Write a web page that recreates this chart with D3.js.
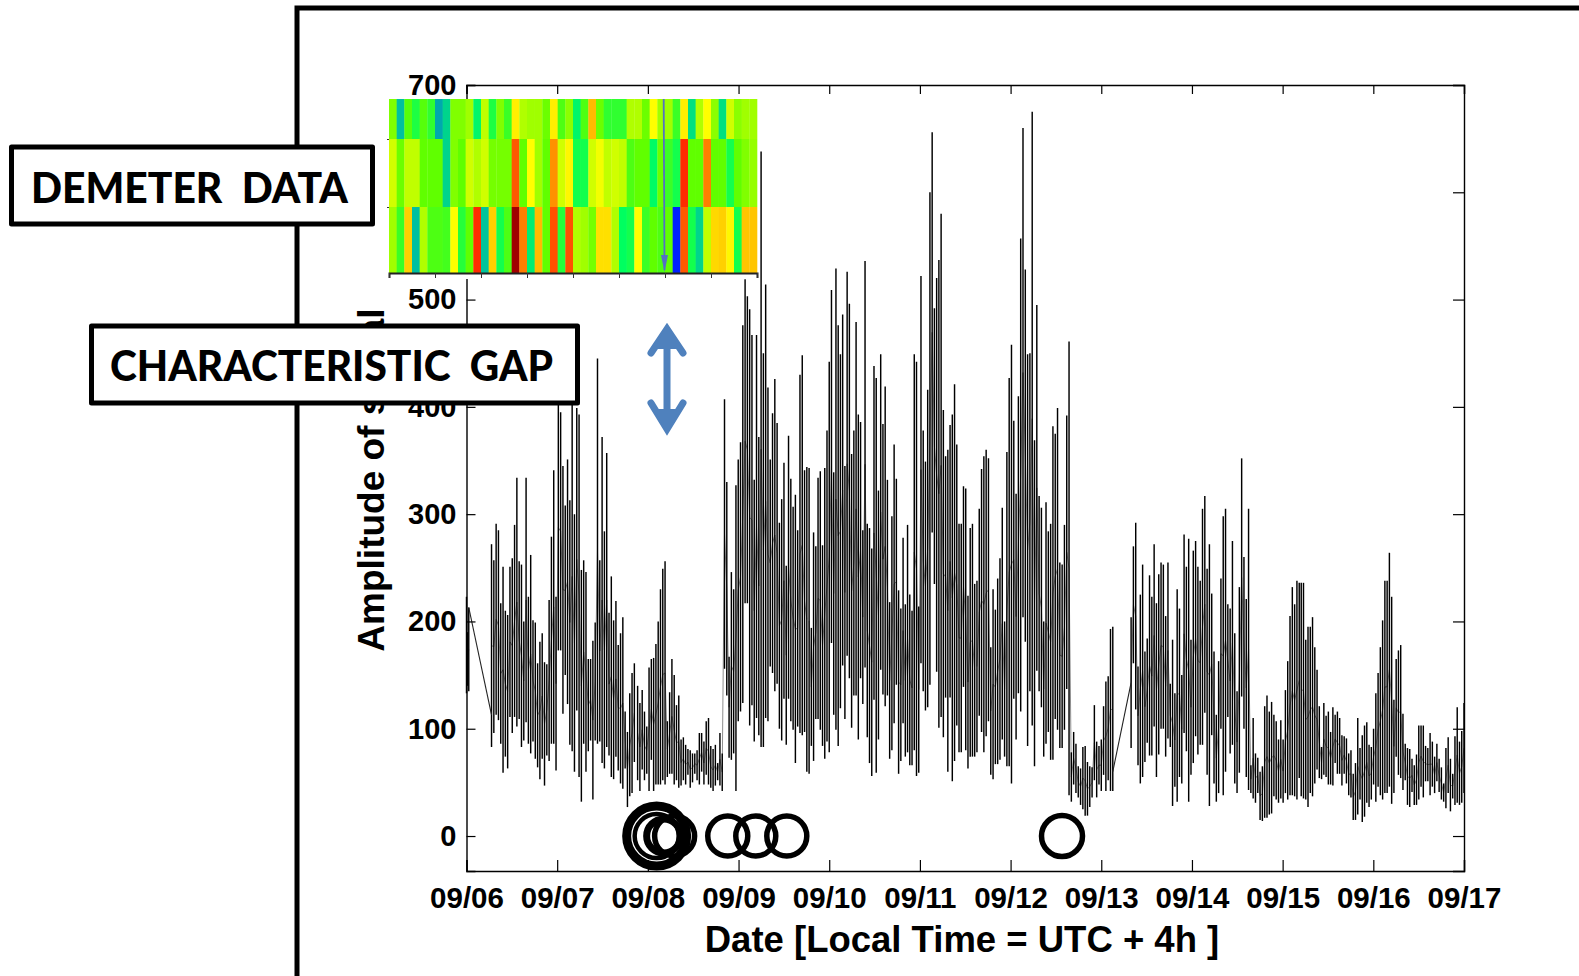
<!DOCTYPE html>
<html>
<head>
<meta charset="utf-8">
<script src="https://cdn.jsdelivr.net/npm/d3@7"></script>
<style>
html, body { margin: 0; background: #fff; }
svg { display: block; }
.tick-label { font-family: "Liberation Sans", Arial, sans-serif; font-weight: bold; font-size: 29.5px; fill: #000; }
.axis-title { font-family: "Liberation Sans", Arial, sans-serif; font-weight: bold; font-size: 36.5px; fill: #000; }
.box-label { font-family: Lato, "Open Sans", sans-serif; font-weight: 900; font-size: 42px; fill: #000; }
</style>
</head>
<body>
<svg id="chart" width="1579" height="976"></svg>
<script>
// tick labels, days since 09/06 on the x axis
const dayLabels = ['09/06','09/07','09/08','09/09','09/10','09/11','09/12','09/13','09/14','09/15','09/16','09/17'];
const ampTicks = [0,100,200,300,400,500,600,700];

// trace, high,low pairs, sections run from first day to last day
const traceStart = [0, 0.276, 1.887, 3.778, 5.629, 7.329, 9.205];
const traceEnd = [0.025, 1.851, 3.753, 5.604, 7.127, 9.183, 11];

const trace0 = [223,133, 190,140, 213,135];
const trace1 = [272,83, 257,96, 291,113, 285,108, 217,86, 251,59, 210,74, 206,63, 251,111, 259,96, 290,111, 334,102, 256,109, 253,83, 200,89, 334,106, 223,86, 262,77, 201,88, 199,72, 161,64, 181,53, 189,72, 162,47, 160,75, 220,70, 279,86, 341,86, 223,61, 402,173, 395,173, 345,114, 308,150, 351,123, 313,85, 405,79, 300,60, 399,117, 393,55, 248,32, 257,86, 246,60, 165,79, 165,89, 182,34, 199,89, 445,86, 257,88, 372,68, 284,63, 357,83, 208,75, 242,55, 201,53, 219,74, 178,61, 189,49, 204,44, 116,63, 97,27, 133,37, 152,40, 161,69];
const trace2 = [140,52, 124,42, 136,62, 116,52, 102,58, 157,42, 165,71, 166,42, 179,48, 200,48, 230,48, 249,52, 256,48, 107,55, 134,58, 165,58, 150,48, 122,52, 131,45, 90,47, 92,52, 85,48, 81,57, 80,45, 77,50, 77,58, 80,52, 96,48, 96,60, 88,48, 107,57, 110,48, 84,45, 81,42, 85,47, 68,52, 96,47, 77,42, 407,156, 330,131, 167,73, 246,71, 230,77, 327,42, 351,107, 367,116, 476,124, 519,217, 503,217, 491,103, 467,122, 332,88, 467,110, 372,94, 638,83, 450,83, 514,110, 418,107, 351,158, 394,152, 426,135, 385,142, 292,100, 314,89, 348,128, 252,85, 373,128, 333,107, 307,99, 318,68, 285,102, 430,96, 448,94, 341,97, 344,60];
const trace3 = [343,58, 194,84, 283,70, 270,109, 334,109, 340,99, 271,84, 343,72, 378,88, 442,78, 509,180, 339,113, 529,99, 476,84, 449,119, 486,159, 345,109, 526,168, 496,147, 356,101, 378,131, 479,131, 393,90, 386,147, 285,123, 536,157, 291,92, 287,68, 268,56, 438,127, 427,59, 322,90, 449,155, 384,132, 419,121, 332,131, 218,72, 298,80, 365,105, 333,141, 229,58, 212,70, 278,105, 216,74, 290,78, 225,66, 210,66, 449,80, 442,56, 214,59, 522,161, 378,135, 349,117, 416,120, 600,141, 656,283, 492,235, 520,153, 537,101, 580,111, 397,92, 354,129, 360,60, 383,129, 393,51, 421,70, 365,103, 291,78, 291,78, 326,139, 324,80, 224,63, 287,74, 291,74, 235,74];
const trace4 = [238,78, 305,112, 342,97, 354,78, 360,93, 352,107, 176,57, 230,53, 211,67, 240,67, 259,71, 306,90, 200,74, 358,65, 427,65, 458,49, 387,128, 319,90, 410,133, 557,116, 660,204, 528,181, 449,84, 450,135, 675,103, 369,65, 495,154, 317,135, 306,120, 200,74, 311,86, 284,97, 291,71, 382,71, 375,109, 399,99, 255,82, 253,82, 290,99, 392,137, 461,38, 78,32, 97,48, 86,40, 65,36, 63,29, 83,25, 84,19, 69,19, 65,27, 64,36, 122,52, 88,36, 84,48, 90,42, 121,57, 144,42, 149,52, 193,42, 195,42];
const trace5 = [204,82, 270,161, 292,118, 158,66, 225,49, 253,55, 172,69, 184,87, 243,75, 223,75, 272,102, 217,55, 244,76, 255,100, 253,100, 205,74, 255,91, 142,83, 183,28, 133,46, 230,32, 212,55, 150,49, 281,96, 251,79, 277,32, 183,57, 266,68, 275,93, 251,76, 238,85, 305,85, 317,115, 249,57, 272,28, 226,94, 172,49, 113,32, 163,40, 240,100, 298,38, 305,60, 216,111, 212,77, 275,85, 189,49, 135,40, 232,59, 352,130, 260,100, 221,55, 305,43, 66,40, 110,35, 77,31, 73,40, 60,15, 65,14, 121,17, 131,17, 116,20, 125,21, 113,37, 107,34, 90,31, 108,35, 90,31, 136,40, 163,34, 205,38, 232,38, 216,37, 238,34, 236,54];
const trace6 = [236,37, 236,35, 183,34, 195,27, 195,40, 204,37, 176,49, 155,62, 121,54, 83,53, 124,57, 112,55, 116,48, 97,48, 120,47, 113,68, 116,58, 110,58, 94,47, 93,58, 91,49, 77,38, 80,36, 58,15, 68,15, 110,20, 82,34, 94,13, 103,18, 106,31, 85,27, 83,34, 100,48, 133,32, 152,46, 176,38, 201,34, 238,40, 238,40, 264,46, 223,30, 127,40, 165,74, 173,57, 178,54, 114,43, 86,52, 82,29, 81,27, 72,41, 66,29, 76,29, 103,34, 103,46, 103,36, 84,51, 82,51, 96,38, 88,46, 74,40, 86,51, 72,41, 64,34, 49,32, 82,26, 92,40, 72,23, 58,35, 93,29, 120,31, 88,29, 98,31, 124,40];
const traces = [trace0, trace1, trace2, trace3, trace4, trace5, trace6];

// the two data gaps, straight line across each: day, value
const gapOne = [[0.025, 213], [0.276, 113]];
const gapTwo = [[7.127, 60], [7.329, 143]];

// earthquakes along the zero line, day and drawn ring size
const quakeDay = [2.097, 2.097, 2.174, 2.295, 2.881, 3.19, 3.532, 6.567];
const quakeRing = [30, 22, 17, 20, 20, 20, 20, 20.5];
const quakeWeight = [9, 4.5, 7, 5.5, 5.5, 5.5, 5.5, 5.5];

// demeter panel, top row first
const heatTop = [.53,.25,.49,.43,.49,.45,.22,.30,.53,.53,.56,.38,.60,.43,.53,.46,.68,.58,.56,.56,.51,.68,.48,.54,.38,.48,.74,.51,.45,.45,.45,.58,.58,.51,.66,.56,.56,.46,.68,.33,.58,.66,.54,.33,.62,.54,.56,.56];
const heatMid = [.62,.51,.60,.60,.50,.50,.50,.30,.53,.50,.62,.58,.62,.52,.52,.52,.84,.50,.66,.56,.50,.78,.62,.67,.42,.42,.62,.65,.60,.62,.60,.48,.50,.50,.39,.51,.46,.42,.89,.50,.50,.80,.50,.50,.42,.50,.53,.55];
const heatLow = [.56,.46,.72,.25,.58,.48,.48,.47,.66,.44,.50,.89,.26,.72,.42,.48,1,.80,.36,.74,.50,.85,.44,.85,.58,.56,.52,.70,.70,.58,.40,.42,.66,.46,.50,.48,.50,.05,.84,.42,.30,.60,.71,.72,.67,.42,.73,.73];
const heatRows = [heatTop, heatMid, heatLow];
const heatStops = [.05,.25,.33,.40,.45,.50,.56,.62,.66,.72,.78,.85,.90,1];
const heatColors = ['#0020ff','#00c0a0','#00e080','#00ff60','#30ff30','#60ff00','#a0ff00','#d0ff00','#ffff00','#ffd000','#ff9000','#ff5000','#ff2000','#a00000'];

const svg = d3.select('#chart');

const x = d3.scaleLinear().domain([0, 11]).range([466.5, 1464]);
const y = d3.scaleLinear().domain([-32.6, 700]).range([871, 85]);

// big slide frame, runs off the page
svg.append('path')
    .attr('d', 'M297,976V8H1579')
    .attr('fill', 'none')
    .attr('stroke', '#000')
    .attr('stroke-width', 5);

let line = d3.line().x(d => x(d[0])).y(d => y(d[1]));

// each section: thin path through the columns, then the column strokes on top
traces.forEach((t, s) => {
    let cols = [];
    let n = t.length / 2;
    for (let i = 0; i < n; i++) {
        let day = traceStart[s] + (traceEnd[s] - traceStart[s]) * i / Math.max(n - 1, 1);
        cols.push({day: day, hi: t[i * 2], lo: t[i * 2 + 1]});
    }
    svg.append('path')
        .datum(cols.map(c => [c.day, (c.hi + c.lo) / 2]))
        .attr('d', line)
        .attr('fill', 'none')
        .attr('stroke', '#000')
        .attr('stroke-width', 0.45);
    svg.append('g').selectAll('line')
        .data(cols)
        .join('line')
        .attr('x1', d => x(d.day))
        .attr('x2', d => x(d.day))
        .attr('y1', d => y(d.hi))
        .attr('y2', d => y(d.lo))
        .attr('stroke', '#000')
        .attr('stroke-width', 1.45);
});

[gapOne, gapTwo].forEach(g => {
    svg.append('path')
        .datum(g)
        .attr('d', line)
        .attr('fill', 'none')
        .attr('stroke', '#222')
        .attr('stroke-width', 1.1);
});

// quakes
svg.append('g').selectAll('circle')
    .data(quakeDay)
    .join('circle')
    .attr('cx', d => x(d))
    .attr('cy', y(0))
    .attr('r', (d, i) => quakeRing[i])
    .attr('fill', 'none')
    .attr('stroke', '#000')
    .attr('stroke-width', (d, i) => quakeWeight[i]);

// axes, ticks point inward on all four sides
const axisBottom = d3.axisBottom(x).tickValues(d3.range(12)).tickSize(-11).tickPadding(16).tickFormat(d => dayLabels[d]);
const axisTop = d3.axisTop(x).tickValues(d3.range(12)).tickSize(-9).tickFormat('');
const axisLeft = d3.axisLeft(y).tickValues(ampTicks).tickSize(-9).tickPadding(10);
const axisRight = d3.axisRight(y).tickValues(ampTicks).tickSize(-11).tickFormat('');

svg.append('g').attr('transform', 'translate(0,871)').call(axisBottom);
svg.append('g').attr('transform', 'translate(0,85)').call(axisTop);
let leftAxis = svg.append('g').attr('transform', 'translate(466.5,0)').call(axisLeft);
svg.append('g').attr('transform', 'translate(1464,0)').call(axisRight);
svg.selectAll('.domain').attr('stroke', '#000').attr('stroke-width', 1.4);
svg.selectAll('.tick line').attr('stroke', '#000').attr('stroke-width', 1.2);
svg.selectAll('.tick text').attr('class', 'tick-label');
leftAxis.selectAll('.tick text').style('font-size', '29px');

svg.append('text')
    .attr('class', 'axis-title')
    .attr('x', 962)
    .attr('y', 952)
    .attr('text-anchor', 'middle')
    .text('Date [Local Time = UTC + 4h ]');

svg.append('text')
    .attr('class', 'axis-title')
    .style('font-size', '37px')
    .attr('transform', 'translate(384,480) rotate(-90)')
    .attr('text-anchor', 'middle')
    .text('Amplitude of signal');

// demeter panel over the plot
const heatX = d3.scaleBand().domain(d3.range(48)).range([389, 757]);
const heatY = d3.scaleLinear().domain([0, 1, 2, 3]).range([99, 139, 207, 273]);
const heatColor = d3.scaleLinear().domain(heatStops).range(heatColors).clamp(true);
const heatTicks = d3.scaleLinear().domain([0, 8]).range([389, 757]);

svg.append('rect').attr('x', 385).attr('y', 99).attr('width', 374).attr('height', 180).attr('fill', '#fff');

heatRows.forEach((row, r) => {
    svg.append('g').selectAll('rect')
        .data(row)
        .join('rect')
        .attr('x', (d, i) => heatX(i))
        .attr('y', heatY(r))
        .attr('width', heatX.bandwidth() + 0.3)
        .attr('height', heatY(r + 1) - heatY(r))
        .attr('fill', d => heatColor(d));
});

svg.append('g')
    .attr('transform', 'translate(0,273)')
    .call(d3.axisBottom(heatTicks).tickValues(d3.range(9)).tickSize(5).tickFormat(''))
    .call(g => g.select('.domain').attr('stroke', '#222').attr('stroke-width', 2))
    .call(g => g.selectAll('.tick line').attr('stroke', '#333'));

svg.append('g')
    .attr('transform', 'translate(389,0)')
    .call(d3.axisLeft(heatY).tickValues([1, 2]).tickSize(2).tickFormat(''))
    .call(g => g.select('.domain').remove())
    .call(g => g.selectAll('.tick line').attr('stroke', '#333'));

// thin arrow inside the panel
svg.append('path')
    .attr('d', 'M663.7,99L664.5,270')
    .attr('stroke', '#5470c4')
    .attr('stroke-width', 1.8)
    .attr('fill', 'none');
svg.append('path')
    .attr('d', 'M661,255L664.5,272L668,255Z')
    .attr('fill', '#5470c4');

// label boxes
function labelBox(x0, y0, w, h, label, textX, textY, textW) {
    svg.append('rect')
        .attr('x', x0).attr('y', y0)
        .attr('width', w).attr('height', h)
        .attr('fill', '#fff')
        .attr('stroke', '#000')
        .attr('stroke-width', 5)
        .attr('stroke-linejoin', 'round');
    svg.append('text')
        .attr('class', 'box-label')
        .attr('x', textX).attr('y', textY)
        .attr('xml:space', 'preserve')
        .attr('textLength', textW)
        .attr('lengthAdjust', 'spacingAndGlyphs')
        .text(label);
}
labelBox(11.5, 147, 361, 77, 'DEMETER  DATA', 31, 203, 317);
labelBox(91.5, 326, 486, 77, 'CHARACTERISTIC  GAP', 110, 381, 443);

// blue double arrow for the gap
svg.append('path')
    .attr('d', 'M667,330V428M651,353L667,329L683,353M651,403L667,429L683,403')
    .attr('fill', 'none')
    .attr('stroke', '#4f81bd')
    .attr('stroke-width', 7)
    .attr('stroke-linecap', 'round');
svg.append('path')
    .attr('d', 'M655,349L667,324L679,349ZM655,409L667,434L679,409Z')
    .attr('fill', '#4f81bd');
</script>
</body>
</html>
